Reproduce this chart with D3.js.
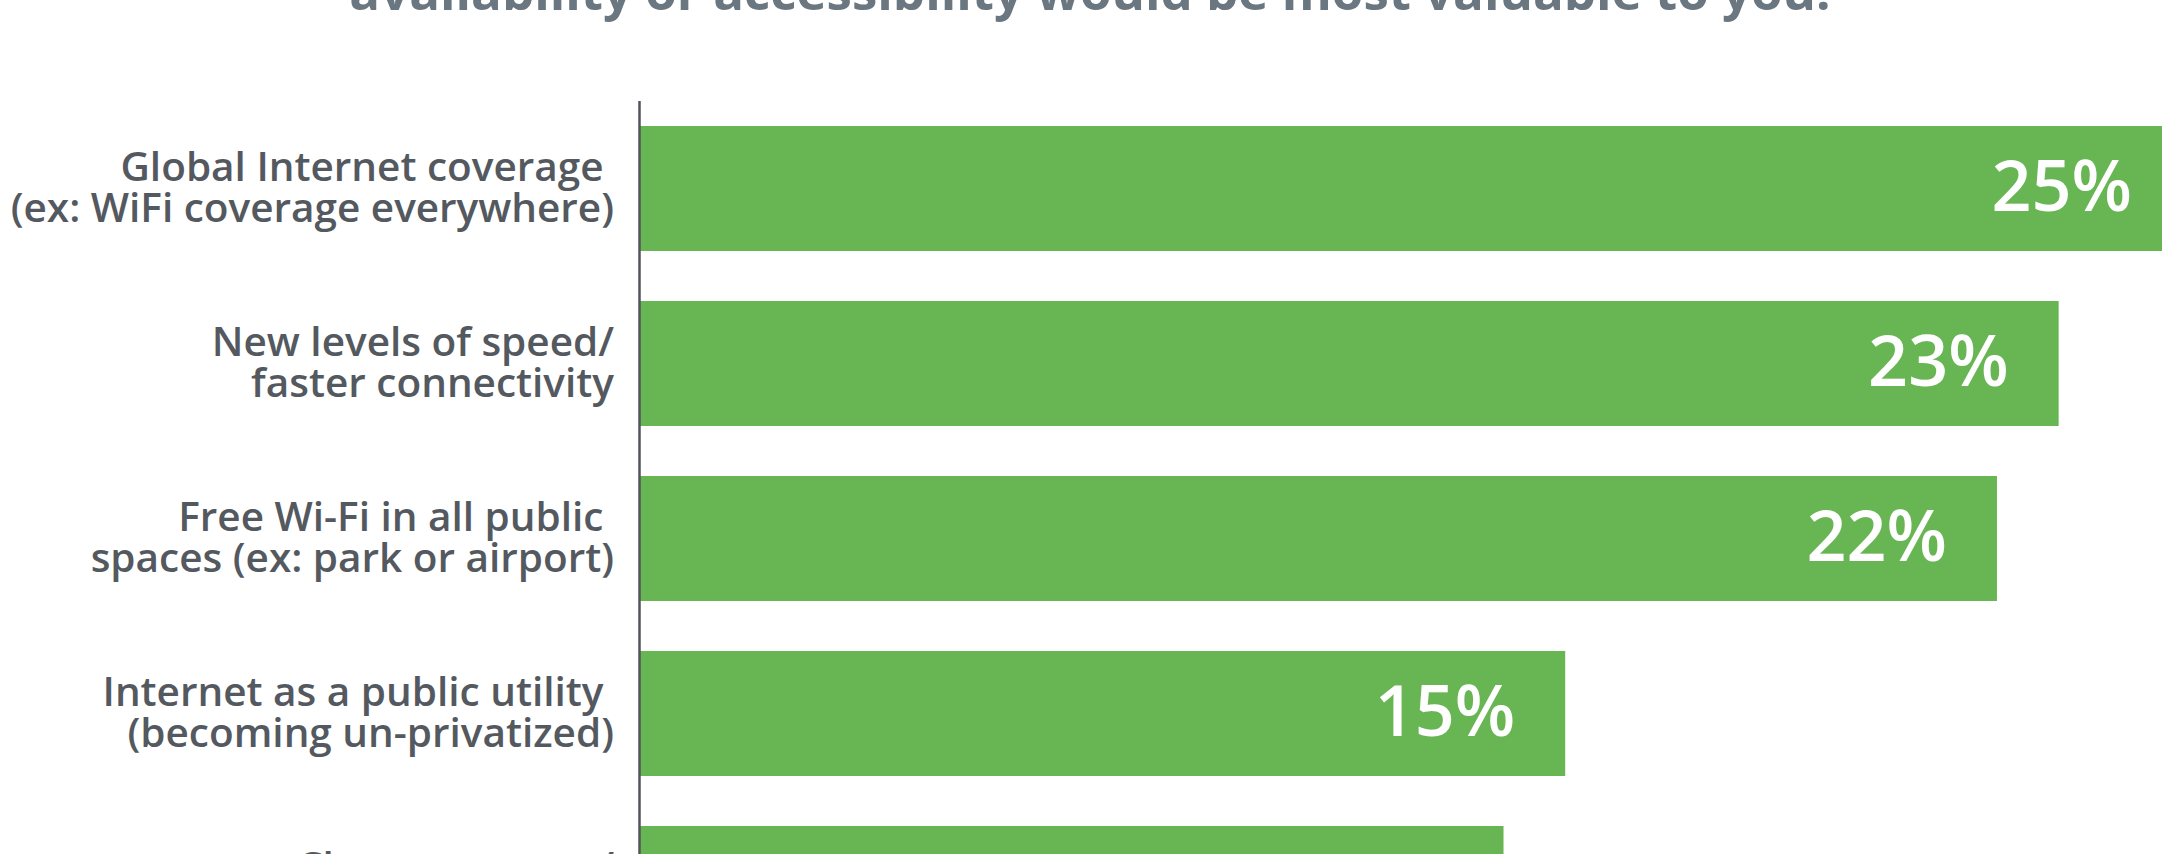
<!DOCTYPE html>
<html>
<head>
    <meta charset="utf-8">
    <title>Internet improvements</title>
    <script src="https://d3js.org/d3.v7.min.js"></script>
    <style>
        body, html {
            margin: 0;
            padding: 0;
            background: #fff;
            overflow: hidden;
        }
        svg {
            display: block;
            font-family: "Open Sans", sans-serif;
        }
        .title {
            font-size: 51px;
            font-weight: 700;
            fill: #6a7680;
        }
        .cat-label {
            font-size: 40.5px;
            font-weight: 600;
            fill: #54595f;
            white-space: pre;
        }
        .value-label {
            font-size: 70px;
            font-weight: 600;
            fill: #fff;
        }
    </style>
</head>
<body>
    <svg></svg>

    <script>
        // Chart data
        const categories = [
            "Global Internet coverage \n(ex: WiFi coverage everywhere)",
            "New levels of speed/\nfaster connectivity",
            "Free Wi-Fi in all public \nspaces (ex: park or airport)",
            "Internet as a public utility \n(becoming un-privatized)",
            "Cheaper access/\naffordable plans"
        ];
        const values = [25, 23, 22, 15, 14];
        const titleText = "availability or accessibility would be most valuable to you.";

        const width = 2162;
        const height = 854;

        const svg = d3.select("svg")
            .attr("width", width)
            .attr("height", height);

        // Scales
        const x = d3.scaleLinear()
            .domain([0, 25])
            .range([640, 2182]);

        const y = d3.scaleBand()
            .domain(categories)
            .range([101, 976])
            .paddingInner(50 / 175)
            .paddingOuter(25 / 175);

        // Title (second line only, top cut off)
        svg.append("text")
            .attr("class", "title")
            .attr("x", 1090)
            .attr("y", 10)
            .attr("text-anchor", "middle")
            .text(titleText);

        // Bars
        svg.append("g")
            .selectAll("rect")
            .data(values)
            .join("rect")
            .attr("x", x(0))
            .attr("y", (d, i) => y(categories[i]))
            .attr("width", d => x(d) - x(0))
            .attr("height", y.bandwidth())
            .attr("fill", "#68b653");

        // Vertical axis line
        svg.append("line")
            .attr("x1", 639.5)
            .attr("x2", 639.5)
            .attr("y1", 101)
            .attr("y2", 976)
            .attr("stroke", "#50555b")
            .attr("stroke-width", 2.5);

        // Category labels (two lines, right aligned)
        const labels = svg.append("g")
            .selectAll("text")
            .data(categories)
            .join("text")
            .attr("class", "cat-label")
            .attr("text-anchor", "end")
            .attr("y", d => y(d) + y.bandwidth() / 2 - 7.5);

        labels.selectAll("tspan")
            .data(d => d.split("\n"))
            .join("tspan")
            .attr("x", 614)
            .attr("dy", (d, i) => i === 0 ? 0 : 41)
            .text(d => d);

        // Value labels inside the bars
        svg.append("g")
            .selectAll("text")
            .data(values)
            .join("text")
            .attr("class", "value-label")
            .attr("text-anchor", "end")
            .attr("x", d => x(d) - 50)
            .attr("y", (d, i) => y(categories[i]) + y.bandwidth() / 2 + 22)
            .text(d => d + "%");
    </script>
</body>
</html>
